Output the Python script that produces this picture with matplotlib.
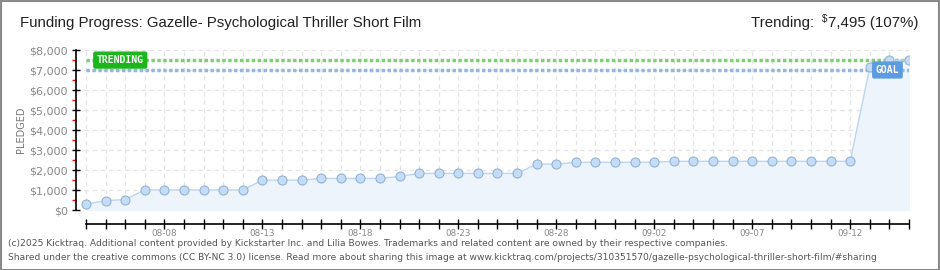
import matplotlib
matplotlib.use("Agg")
import matplotlib.pyplot as plt
from matplotlib.patches import Rectangle
from matplotlib.ticker import FixedLocator, MultipleLocator, FuncFormatter
import numpy as np
import pandas as pd

# daily pledged totals, 08-04 .. 09-15
dates = pd.date_range("2025-08-04", "2025-09-15")
pledged = [290, 470, 520, 1000, 1000, 1000, 1000, 1000, 1000,
           1490, 1490, 1490, 1580, 1580, 1580, 1580, 1680,
           1830, 1830, 1830, 1830, 1830, 1830, 2300, 2290,
           2385, 2385, 2385, 2385, 2385,
           2435, 2435, 2435, 2435, 2435, 2435, 2435, 2435, 2435, 2435,
           7150, 7480, 7495]
goal = 7000
trending = 7495
title = "Funding Progress: Gazelle- Psychological Thriller Short Film"
footer = ["(c)2025 Kicktraq. Additional content provided by Kickstarter Inc. and Lilia Bowes. "
          "Trademarks and related content are owned by their respective companies.",
          "Shared under the creative commons (CC BY-NC 3.0) license. Read more about sharing this image at "
          "www.kicktraq.com/projects/310351570/gazelle-psychological-thriller-short-film/#sharing"]

x = np.arange(len(dates))
W, H = 940, 270
head_font = "Liberation Sans"
head_size = 10.8

fig = plt.figure(figsize=(W / 100, H / 100), dpi=100)
fig.patch.set_facecolor("white")
ax = fig.add_axes([76 / W, 1 - 210 / H, (909 - 76) / W, 160 / H])

ax.fill_between(x, pledged, 0, color="#edf4fc", zorder=1)
ax.plot(x, pledged, color="#bcd6f2", lw=1, zorder=3)
ax.plot(x, pledged, ls="none", marker="o", ms=6.5, mfc="#c4dcf6", mec="#95b3d6",
        mew=0.8, zorder=4)

# goal / trending lines
ax.plot([x[0], x[-1]], [trending, trending], color="#7fcf73", lw=2.5,
        ls=(0, (1, 0.7)), zorder=2)
ax.plot([x[0], x[-1]], [goal, goal], color="#92b7e4", lw=2.5,
        ls=(0, (1, 0.7)), zorder=2)
ax.text(1.75, trending, "TRENDING", color="white", fontsize=7, fontweight="bold",
        ha="center", va="center", family="DejaVu Sans Mono", zorder=6,
        bbox=dict(boxstyle="round,pad=0.3,rounding_size=0.15", fc="#1cb51c", ec="#1cb51c"))
ax.text(40.9, goal, "GOAL", color="white", fontsize=7, fontweight="bold",
        ha="center", va="center", family="DejaVu Sans Mono", zorder=6,
        bbox=dict(boxstyle="round,pad=0.3,rounding_size=0.15", fc="#5c9be0", ec="#5c9be0"))

ax.set_xlim(-0.51, x[-1])
ax.set_ylim(0, 8000)

ax.spines["top"].set_visible(False)
ax.spines["right"].set_visible(False)
ax.spines["bottom"].set_position(("outward", 10))
ax.spines["bottom"].set_bounds(0, x[-1])
ax.spines["left"].set_bounds(0, 8000)
for s in ("left", "bottom"):
    ax.spines[s].set_linewidth(1.2)

ax.xaxis.set_major_locator(FixedLocator(x))
ax.set_xticks(x, [d.strftime("%m-%d") if i % 5 == 4 else "" for i, d in enumerate(dates)])
ax.yaxis.set_major_locator(MultipleLocator(1000))
ax.yaxis.set_minor_locator(MultipleLocator(500))
ax.yaxis.set_major_formatter(FuncFormatter(lambda v, p: f"${v:,.0f}"))
ax.tick_params(axis="x", direction="inout", length=7, width=1, labelsize=6.3,
               labelcolor="#888888", pad=0.5)
ax.tick_params(axis="y", which="major", direction="inout", length=6, width=1,
               labelsize=8, labelcolor="#888888", pad=3)
ax.tick_params(axis="y", which="minor", direction="out", length=3, width=1, color="red")

ax.grid(True, which="major", color="#e4e4e4", lw=0.9, ls=(0, (3.5, 3)), zorder=0)
ax.set_axisbelow(True)
ax.set_ylabel("PLEDGED", fontsize=7, color="#777777", labelpad=2)

fig.text(20 / W, 1 - 23 / H, title, fontsize=head_size, family=head_font,
         color="#222222", va="center", ha="left")

# "Trending: $7,495 (107%)" with a small raised dollar sign
t_val = fig.text(918 / W, 1 - 23 / H, "7,495 (107%)", fontsize=head_size, family=head_font,
                 color="#222222", va="center", ha="right")
t_cur = ax.annotate("$", xy=(0, 0.45), xycoords=t_val, fontsize=7, family=head_font,
                    color="#222222", ha="right", va="bottom", annotation_clip=False)
ax.annotate("Trending:  ", xy=(0, 0), xycoords=(t_cur, t_val), fontsize=head_size, family=head_font,
            color="#222222", ha="right", va="bottom", annotation_clip=False)

fig.text(8 / W, 1 - 243 / H, footer[0], fontsize=6.6, color="#555555", va="center")
fig.text(8 / W, 1 - 258 / H, footer[1], fontsize=6.6, color="#555555", va="center")

fig.patches.append(Rectangle((0.5 / W, 0.5 / H), 1 - 1.5 / W, 1 - 1.5 / H, transform=fig.transFigure,
                             fill=False, ec="#8a8a8a", lw=1.5))

fig.savefig("out.png", dpi=100)
